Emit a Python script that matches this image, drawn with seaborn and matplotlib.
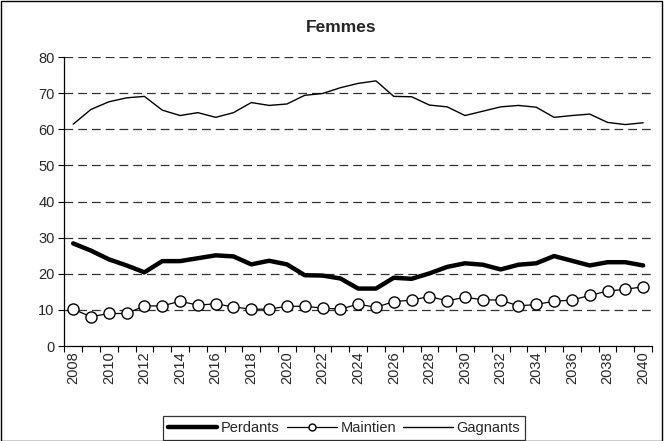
import numpy as np
import pandas as pd
import matplotlib
matplotlib.use("Agg")
import matplotlib.pyplot as plt
from matplotlib.patches import Rectangle
from matplotlib.ticker import FixedLocator
import seaborn as sns

# data
years = list(range(2008, 2041))
perdants = [28.4, 26.4, 24.0, 22.3, 20.4, 23.5, 23.5, 24.3, 25.1, 24.8, 22.6,
            23.6, 22.6, 19.6, 19.5, 18.7, 15.9, 15.9, 18.9, 18.6, 20.1, 21.9,
            22.9, 22.5, 21.2, 22.5, 22.9, 24.9, 23.6, 22.3, 23.2, 23.2, 22.3]
maintien = [10.2, 8.1, 9.0, 9.0, 11.1, 11.1, 12.4, 11.3, 11.7, 10.8, 10.2,
            10.2, 11.0, 11.0, 10.5, 10.2, 11.6, 10.7, 12.3, 12.7, 13.7, 12.5,
            13.5, 12.8, 12.7, 11.1, 11.5, 12.4, 12.7, 14.0, 15.2, 15.7, 16.4]
gagnants = [61.4, 65.5, 67.6, 68.7, 69.1, 65.3, 63.8, 64.6, 63.3, 64.6, 67.4,
            66.6, 67.0, 69.4, 69.9, 71.5, 72.7, 73.4, 69.1, 69.0, 66.7, 66.2,
            63.8, 65.0, 66.2, 66.6, 66.1, 63.3, 63.8, 64.2, 61.9, 61.3, 61.8]
y_ticks = list(range(0, 90, 10))

df = pd.DataFrame({"annee": years, "Perdants": perdants,
                   "Maintien": maintien, "Gagnants": gagnants})

sns.set_theme(style="white")
plt.rcParams["font.family"] = ["Liberation Sans", "DejaVu Sans"]

fig = plt.figure(figsize=(6.64, 4.41), dpi=100)
ax = fig.add_axes([0.0968, 0.2154, 0.982 - 0.0968, 0.8707 - 0.2154])

sns.lineplot(data=df, x="annee", y="Perdants", ax=ax, color="black",
             linewidth=3.2, label="Perdants")
sns.lineplot(data=df, x="annee", y="Maintien", ax=ax, color="black",
             linewidth=0.9, marker="o", markersize=8, markerfacecolor="white",
             markeredgecolor="black", markeredgewidth=1.0, label="Maintien")
sns.lineplot(data=df, x="annee", y="Gagnants", ax=ax, color="black",
             linewidth=1.0, label="Gagnants")

ax.set_xlim(2007.5, 2040.5)
ax.set_ylim(0, 80)
ax.set_yticks(y_ticks)
ax.set_xticks(years[::2])
ax.set_xticklabels([str(y) for y in years[::2]], rotation=90)
ax.xaxis.set_minor_locator(FixedLocator([y - 0.5 for y in years] + [years[-1] + 0.5]))
ax.tick_params(axis="x", which="major", length=0, labelsize=10.5, pad=4)
ax.tick_params(axis="x", which="minor", length=4, width=0.8, color="black",
               direction="out", bottom=True)
ax.tick_params(axis="y", length=4, width=0.8, color="black", direction="out",
               left=True, labelsize=10.5, pad=3)
ax.set_xlabel("")
ax.set_ylabel("")

for v in y_ticks[1:]:
    ax.axhline(v, color="#333333", linewidth=0.9, linestyle=(0, (7, 4)), zorder=0)

for s in ["top", "right"]:
    ax.spines[s].set_visible(False)
for s in ["left", "bottom"]:
    ax.spines[s].set_color("black")
    ax.spines[s].set_linewidth(0.9)

fig.text(0.514, 0.937, "Femmes", ha="center", va="center",
         fontsize=12.5, fontweight="bold")

ax.get_legend().remove()
leg = fig.legend(*ax.get_legend_handles_labels(), loc="lower center",
                 bbox_to_anchor=(0.518, -0.014), ncol=3, frameon=True,
                 fancybox=False, edgecolor="black", fontsize=10.5,
                 handlelength=3.4, columnspacing=0.5, handletextpad=0.25,
                 borderpad=0.35)
leg.get_frame().set_linewidth(0.9)
leg.legend_handles[1].set_markersize(5)

fig.patches.append(Rectangle((0.001, 0.001), 0.996, 0.997, transform=fig.transFigure,
                             fill=False, edgecolor="black", linewidth=1.0))

fig.savefig("out.png", dpi=100)
